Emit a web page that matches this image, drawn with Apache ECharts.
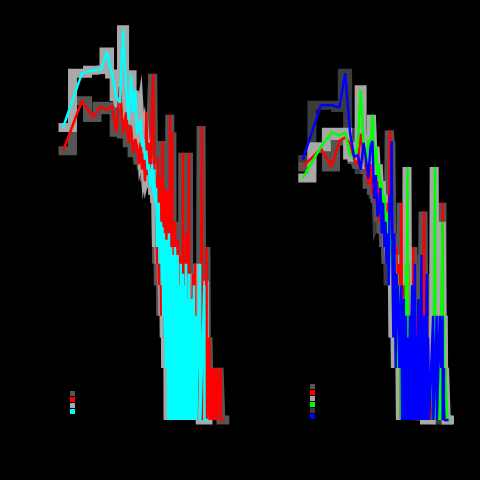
<!DOCTYPE html>
<html>
<head>
<meta charset="utf-8">
<script src="https://cdn.jsdelivr.net/npm/echarts@6/dist/echarts.min.js"></script>
<style>html,body{margin:0;padding:0;background:#000;}#c{width:480px;height:480px;}</style>
</head>
<body>
<div id="c"></div>
<script>
// ---- Data (x = value, y = count) ----
var leftRedX  = [1,2,3,4,5,6,7,8,9,10,11,12,13,14,15,16,17,18,19,20,21,22,23,24,25,26,27,28,29,30,31,32,33,34,35,36,37,38,39,40,41,42,43,44,45,46,47,48,49,50,51,52,53,54,55,56,57,58,59,60,62,63,65,66,67,68,70,71,74,75,78,79,80,81,85,86,90,91,95,96,100,101,105,106,110,111,115,116,125,126,130,131,150,151,160,161,180,181,190,191,210,211,230,231,250,251,280,281,320,321,370];
var leftRedY  = [36,70,56,65,62,65,46,84,45,60,40,50,35,42,38,30,40,28,35,24,60,26,40,22,35,68,100,30,25,20,8,33,6,15,25,4,12,41,5,14,3,22,6,10,2,21,4,8,3,58,2,7,3,46,2,10,1,6,2,14,1,5,2,11,1,10,4,1,9,1,3,1,35,1,4,1,12,1,3,1,35,1,5,1,2,1,7,1,8,1,3,1,4,1,50,1,3,1,10,1,3,1,2,1,2,1,2,1,2,1,1];
var leftCyanX = [1,2,3,4,5,6,7,8,9,10,11,12,13,14,15,16,17,18,19,20,21,22,23,24,25,26,27,28,29,30,31,32,33,34,35,36,37,38,39,40,41,42,43,44,45,46,47,48,49,50,51,52,53,54,55,56,57,58,59,60,61,63,64,66,67,70,71,74,75,78,79,80,81,85,86,90,91,95,96,100,101,110,111,120,121,130,131,150,151,175,176,200];
var leftCyanY = [49,101,105,106,134,100,74,68,180,84,54,99,60,80,45,47,55,38,42,32,36,28,30,22,26,30,20,28,18,22,10,16,18,8,12,14,6,13,4,12,3,10,2,11,2,9,1,12,2,8,1,10,1,7,1,9,1,6,1,10,1,7,1,9,1,6,1,8,1,5,1,7,1,6,1,8,1,5,1,7,1,5,1,6,1,4,1,8,1,6,1,1];

var rightRedX  = [1,2,3,4,5,6,7,8,9,10,11,12,13,14,15,16,17,18,19,20,21,22,23,24,25,26,27,28,29,30,31,32,33,34,35,36,37,38,39,40,41,42,43,44,45,46,47,48,50,51,52,54,55,56,58,59,63,64,66,67,68,69,70,74,75,80,81,90,91,100,101,105,110,111,115,116,130,131,150,151,170,171,190,191,200,201,220,221,240];
var rightRedY  = [29,37,29,41,43,40,32,30,45,35,28,23,30,20,26,18,24,14,20,12,16,10,14,8,18,12,47,40,15,9,4,12,6,2,10,5,2,8,2,4,1,18,2,3,1,6,1,2,5,1,3,8,1,2,4,1,3,1,10,2,8,1,2,4,1,3,1,2,1,16,1,2,4,1,3,1,2,1,2,1,3,1,2,1,18,1,2,1,1];
var rightGreenX = [1,2,3,4,5,6,7,8,9,10,11,12,13,14,15,16,17,18,19,20,21,22,23,24,25,26,27,28,29,30,31,32,33,34,35,36,37,38,40,41,42,44,45,46,48,49,50,51,53,54,56,58,59,63,64,66,70,74,75,80,81,90,91,100,101,120,121,140,141,150,151,160,170,171,180,181,200,201,210,211,220,240,260];
var rightGreenY = [25,38,46,44,46,34,33,38,81,40,30,42,35,58,30,38,25,30,20,24,16,20,13,16,10,14,9,12,8,10,3,7,9,2,5,7,2,4,6,1,3,5,1,2,4,1,8,1,29,1,2,3,1,3,1,2,1,2,1,3,1,2,1,2,1,2,1,3,1,29,1,2,3,1,2,1,14,1,4,1,2,1,1];
var rightBlueX = [1,2,3,4,5,6,7,8,9,10,11,12,13,14,15,16,17,18,19,20,21,22,23,24,25,26,27,28,29,30,31,32,33,34,35,36,37,38,39,40,42,43,44,46,47,48,50,51,52,54,55,58,59,60,63,64,66,67,70,71,74,75,80,81,85,86,90,91,95,96,100,101,105,110,111,115,120,121,130,140,141,150,160,161,170,180,190,200,201,210,211,230,250];
var rightBlueY = [32,66,66,64,101,46,33,34,28,40,32,25,38,41,19,26,15,16,22,12,18,10,14,8,12,6,20,15,41,8,3,12,5,2,7,4,6,6,2,3,6,1,2,5,1,2,4,1,2,3,1,4,1,2,6,1,3,1,8,1,3,1,5,1,4,1,9,1,3,1,4,1,2,7,1,3,3,1,2,4,1,2,4,1,1,4,2,4,1,2,1,1,1];

function pts(xs, ys) { return xs.map(function (x, i) { return [x, ys[i]]; }); }

var X_MIN = 0.746, X_MAX = 537, Y_MIN = 0.961, Y_MAX = 219;

function xAxis(idx) {
  return { type: 'log', gridIndex: idx, min: X_MIN, max: X_MAX, logBase: 10,
    axisLine: { show: true, lineStyle: { color: '#000' } }, axisTick: { lineStyle: { color: '#000' } },
    axisLabel: { color: '#000', fontSize: 10 }, splitLine: { show: false },
    name: 'degree', nameLocation: 'middle', nameGap: 24, nameTextStyle: { color: '#000' } };
}
function yAxis(idx) {
  return { type: 'log', gridIndex: idx, min: Y_MIN, max: Y_MAX, logBase: 10,
    axisLine: { show: true, lineStyle: { color: '#000' } }, axisTick: { lineStyle: { color: '#000' } },
    axisLabel: { color: '#000', fontSize: 10 }, splitLine: { show: false },
    name: 'count', nameLocation: 'middle', nameGap: 30, nameTextStyle: { color: '#000' } };
}
function shadow(name, idx, xs, ys, color) {
  return { name: name, type: 'line', xAxisIndex: idx, yAxisIndex: idx, data: pts(xs, ys), step: 'middle',
    showSymbol: false, symbol: 'none', silent: true, animation: false,
    itemStyle: { color: color }, lineStyle: { color: color, width: 9, cap: 'square', join: 'miter' } };
}
function line(name, idx, xs, ys, color) {
  return { name: name, type: 'line', xAxisIndex: idx, yAxisIndex: idx, data: pts(xs, ys),
    showSymbol: false, symbol: 'none', silent: true, animation: false,
    itemStyle: { color: color }, lineStyle: { color: color, width: 2.5 } };
}

var chart = echarts.init(document.getElementById('c'), null, { renderer: 'canvas' });
chart.setOption({
  backgroundColor: '#000',
  animation: false,
  title: [
    { text: 'A', left: 140, top: 2, textStyle: { color: '#000', fontSize: 12 } },
    { text: 'B', left: 380, top: 2, textStyle: { color: '#000', fontSize: 12 } }
  ],
  grid: [
    { left: 55, width: 180, top: 15, height: 408 },
    { left: 295, width: 180, top: 15, height: 408 }
  ],
  xAxis: [xAxis(0), xAxis(1)],
  yAxis: [yAxis(0), yAxis(1)],
  legend: [
    { left: 65, top: 386, orient: 'vertical', itemWidth: 5, itemHeight: 5, itemGap: 1, selectedMode: false,
      icon: 'rect', textStyle: { color: '#000', fontSize: 5 },
      data: ['red binned', 'red', 'cyan binned', 'cyan'] },
    { left: 305, top: 379, orient: 'vertical', itemWidth: 5, itemHeight: 5, itemGap: 1, selectedMode: false,
      icon: 'rect', textStyle: { color: '#000', fontSize: 5 },
      data: ['red binned ', 'red ', 'green binned', 'green', 'blue binned', 'blue'] }
  ],
  series: [
    shadow('red binned', 0, leftRedX, leftRedY, '#555555'),
    shadow('cyan binned', 0, leftCyanX, leftCyanY, '#a8a8a8'),
    line('red', 0, leftRedX, leftRedY, '#ff0000'),
    line('cyan', 0, leftCyanX, leftCyanY, '#00ffff'),
    shadow('blue binned', 1, rightBlueX, rightBlueY, '#3c3c3c'),
    shadow('red binned ', 1, rightRedX, rightRedY, '#555555'),
    shadow('green binned', 1, rightGreenX, rightGreenY, '#a8a8a8'),
    line('red ', 1, rightRedX, rightRedY, '#ff0000'),
    line('green', 1, rightGreenX, rightGreenY, '#00ff00'),
    line('blue', 1, rightBlueX, rightBlueY, '#0000ff')
  ]
});
</script>
</body>
</html>
